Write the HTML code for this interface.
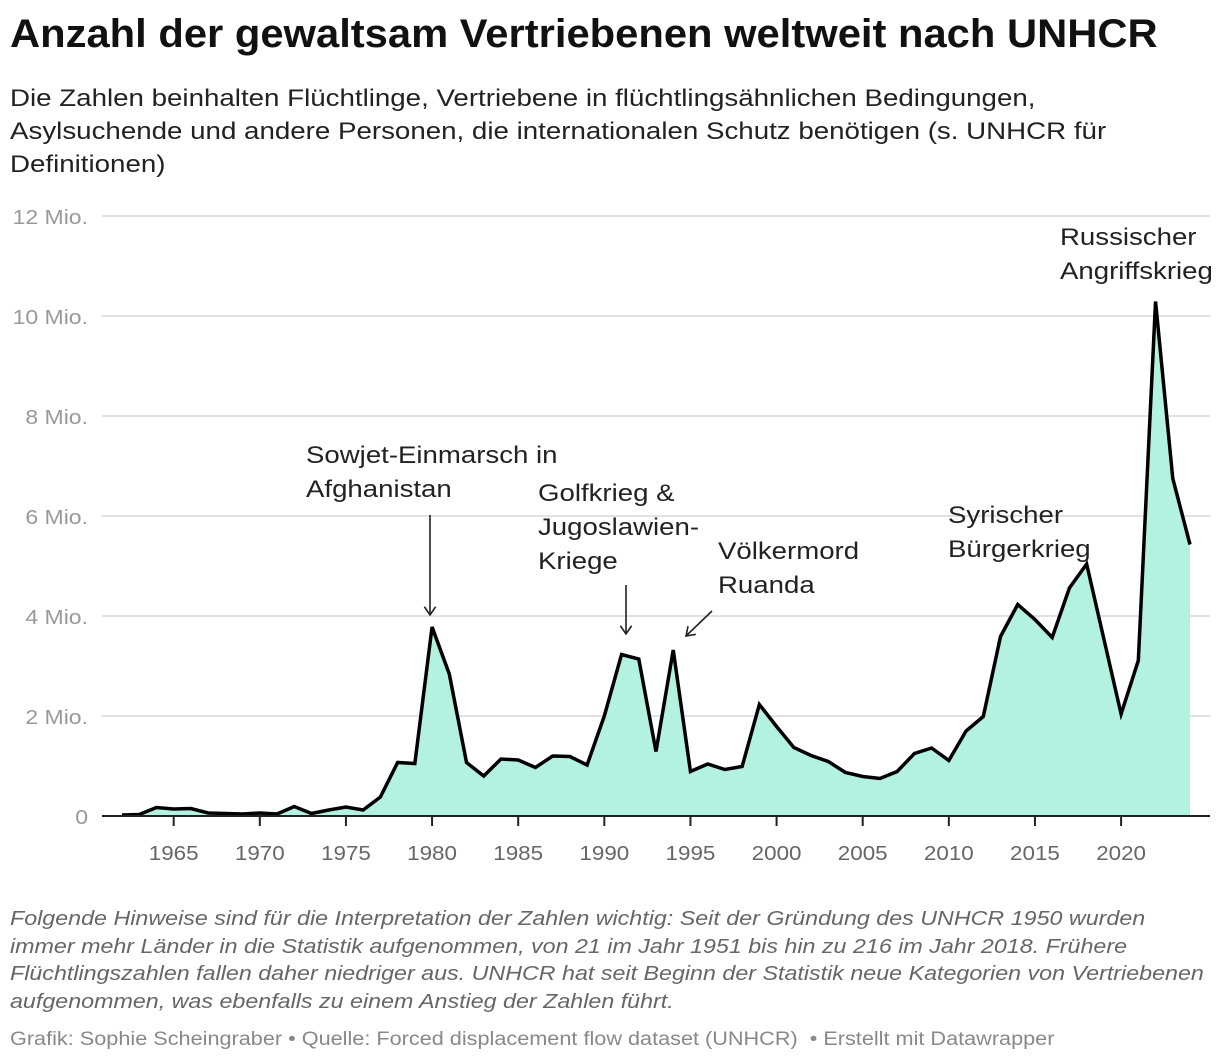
<!DOCTYPE html>
<html><head><meta charset="utf-8">
<style>
body{margin:0;width:1220px;height:1064px;background:#fff;font-family:"Liberation Sans",Arial,sans-serif;overflow:hidden;position:relative}
.t{position:absolute;white-space:nowrap;transform-origin:0 0}
</style></head><body>
<div class="t" style="left:10px;top:12px;font-size:40px;font-weight:bold;color:#111;transform:scaleX(1.043)">Anzahl der gewaltsam Vertriebenen weltweit nach UNHCR</div>
<div class="t" style="left:10px;top:82px;font-size:24px;line-height:33px;color:#222;transform:scaleX(1.154)">Die Zahlen beinhalten Flüchtlinge, Vertriebene in flüchtlingsähnlichen Bedingungen,<br>Asylsuchende und andere Personen, die internationalen Schutz benötigen (s. UNHCR für<br>Definitionen)</div>
<svg id="chart" width="1220" height="900" style="position:absolute;left:0;top:0"></svg>
<div class="t" style="left:10px;top:906px;font-size:20px;line-height:27.5px;color:#666;font-style:italic;transform:scaleX(1.163)">Folgende Hinweise sind für die Interpretation der Zahlen wichtig: Seit der Gründung des UNHCR 1950 wurden<br>immer mehr Länder in die Statistik aufgenommen, von 21 im Jahr 1951 bis hin zu 216 im Jahr 2018. Frühere<br>Flüchtlingszahlen fallen daher niedriger aus. UNHCR hat seit Beginn der Statistik neue Kategorien von Vertriebenen<br>aufgenommen, was ebenfalls zu einem Anstieg der Zahlen führt.</div>
<div class="t" style="left:10px;top:1029px;font-size:19px;color:#888;transform:scaleX(1.14)">Grafik: Sophie Scheingraber • Quelle: Forced displacement flow dataset (UNHCR) &nbsp;• Erstellt mit Datawrapper</div>
<script>
const years=[1962,1963,1964,1965,1966,1967,1968,1969,1970,1971,1972,1973,1974,1975,1976,1977,1978,1979,1980,1981,1982,1983,1984,1985,1986,1987,1988,1989,1990,1991,1992,1993,1994,1995,1996,1997,1998,1999,2000,2001,2002,2003,2004,2005,2006,2007,2008,2009,2010,2011,2012,2013,2014,2015,2016,2017,2018,2019,2020,2021,2022,2023,2024];
const values=[0.02,0.03,0.17,0.14,0.15,0.06,0.05,0.04,0.06,0.04,0.19,0.05,0.12,0.18,0.12,0.38,1.07,1.05,3.78,2.84,1.07,0.8,1.14,1.12,0.97,1.2,1.19,1.02,2.0,3.23,3.14,1.29,3.32,0.89,1.04,0.93,0.99,2.23,1.79,1.37,1.21,1.09,0.87,0.79,0.75,0.89,1.25,1.36,1.11,1.7,1.99,3.59,4.23,3.93,3.57,4.56,5.04,3.54,2.04,3.11,10.29,6.75,5.43];
const yTicks=[0,2,4,6,8,10,12];
const yTickLabels=["0","2 Mio.","4 Mio.","6 Mio.","8 Mio.","10 Mio.","12 Mio."];
const xTicks=[1965,1970,1975,1980,1985,1990,1995,2000,2005,2010,2015,2020];
const NS="http://www.w3.org/2000/svg";
const svg=document.getElementById('chart');
const x=yr=>122+(yr-1962)*(1068/62);
const y=v=>816-v*50;
function mk(t,a,txt){const e=document.createElementNS(NS,t);for(const k in a)e.setAttribute(k,a[k]);if(txt!=null)e.textContent=txt;svg.appendChild(e);return e;}
const F='Liberation Sans, sans-serif';
yTicks.forEach((v,i)=>{
  if(v>0){const g=mk('line',{x1:102,x2:1210,y1:y(v),y2:y(v),stroke:'#e2e2e2','stroke-width':2});
  
  }
  const t=mk('text',{x:0,y:0,transform:`translate(88,${y(v)+8}) scale(1.15,1)`,'text-anchor':'end','font-size':20,fill:'#999','font-family':F},yTickLabels[i]);
  
  
});
let d='M'+x(years[0])+','+y(0);
years.forEach((yr,i)=>{d+=' L'+x(yr)+','+y(values[i]);});
d+=' L'+x(years[years.length-1])+','+y(0)+' Z';
const area=mk('path',{d:d,fill:'#b3f2e1'});


const ld='M'+years.map((yr,i)=>x(yr)+','+y(values[i])).join(' L');
const line=mk('path',{d:ld,fill:'none',stroke:'#000','stroke-width':3.5,'stroke-linejoin':'miter'});


const ax=mk('line',{x1:102,x2:1210,y1:816,y2:816,stroke:'#222','stroke-width':2});


xTicks.forEach(yr=>{
  const tk=mk('line',{x1:x(yr),x2:x(yr),y1:816,y2:826,stroke:'#222','stroke-width':2});
  
  
  const t=mk('text',{x:0,y:0,transform:`translate(${x(yr)},860) scale(1.12,1)`,'text-anchor':'middle','font-size':20,fill:'#666','font-family':F},String(yr));
  
  
});
const notes=[
 {name:'annotation-afghanistan',x:306,y:463,lines:['Sowjet-Einmarsch in','Afghanistan'],ax1:430,ay1:515,ax2:430,ay2:615},
 {name:'annotation-golfkrieg',x:538,y:501,lines:['Golfkrieg &','Jugoslawien-','Kriege'],ax1:626,ay1:585,ax2:626,ay2:634},
 {name:'annotation-ruanda',x:718,y:559,lines:['Völkermord','Ruanda'],ax1:712,ay1:611,ax2:686,ay2:636},
 {name:'annotation-syrien',x:948,y:523,lines:['Syrischer','Bürgerkrieg']},
 {name:'annotation-russland',x:1060,y:245,lines:['Russischer','Angriffskrieg']}
];
notes.forEach(n=>{
  n.lines.forEach((l,i)=>{
    const t=mk('text',{x:0,y:0,transform:`translate(${n.x},${n.y+i*34}) scale(1.15,1)`,'font-size':24,fill:'#222','font-family':F},l);
    
    
  });
  if(n.ax1){
    const a=mk('line',{x1:n.ax1,y1:n.ay1,x2:n.ax2,y2:n.ay2,stroke:'#222','stroke-width':1.6});
    
    
    const ang=Math.atan2(n.ay2-n.ay1,n.ax2-n.ax1);
    const L=10,s=0.6;
    const p=`M${n.ax2-L*Math.cos(ang-s)},${n.ay2-L*Math.sin(ang-s)} L${n.ax2},${n.ay2} L${n.ax2-L*Math.cos(ang+s)},${n.ay2-L*Math.sin(ang+s)}`;
    const h=mk('path',{d:p,fill:'none',stroke:'#222','stroke-width':1.6});
    
    
  }
});
</script>
</body></html>
